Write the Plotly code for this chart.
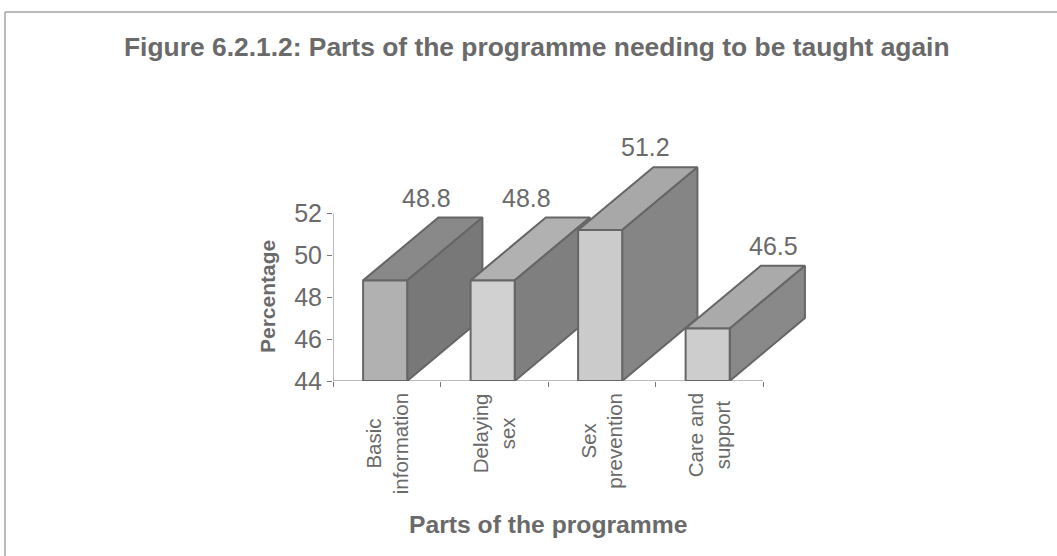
import plotly.graph_objects as go

categories = ["Basic<br>information", "Delaying<br>sex", "Sex<br>prevention", "Care and<br>support"]
percentages = [48.8, 48.8, 51.2, 46.5]
y_ticks = [44, 46, 48, 50, 52]
x_slots = [0, 1, 2, 3, 4]

WIDTH, HEIGHT = 1057, 556
FLOOR = 44
BAR_LEFT = 0.28       # front face offset inside each category slot
BAR_WIDTH = 0.41
DEPTH_X = 0.70        # oblique depth, in category units
DEPTH_Y = 3.0         # oblique depth, in percentage units
INK = "#6a6a6a"
RULE = "#777777"
FONT = "Liberation Sans"

front_shades = ["#bcbcbc", "#e0e0e0", "#dadada", "#dcdcdc"]
top_shades = ["#8e8e8e", "#bcbcbc", "#b2b2b2", "#b4b4b4"]
side_shades = ["#7c7c7c", "#848484", "#8a8a8a", "#8e8e8e"]
label_shift_x = [41, 34, 45, 66]


def px_x(px):
    return px / WIDTH


def px_y(px):
    return 1 - px / HEIGHT


def face(xs, ys, shade):
    return go.Scatter(
        x=xs + xs[:1], y=ys + ys[:1], mode="lines", fill="toself",
        line=dict(color="#666666", width=2),
        fillcolor=shade,
        fillpattern=dict(shape=".", size=2, solidity=0.3, fgcolor="#555555", bgcolor=shade),
        hoverinfo="skip", showlegend=False,
    )


fig = go.Figure()

# Axis lines stop at the last tick although the scales run on to make room for the box depth.
fig.add_trace(go.Scatter(x=[x_slots[0], x_slots[0], x_slots[-1]], y=[y_ticks[-1], y_ticks[0], y_ticks[0]],
                         mode="lines", line=dict(color=RULE, width=1), cliponaxis=False,
                         hoverinfo="skip", showlegend=False))

# Oblique boxes are painted left to right so that each front covers its neighbour's side.
for i, value in enumerate(percentages):
    x0 = i + BAR_LEFT
    x1 = x0 + BAR_WIDTH
    fig.add_trace(face([x0, x1, x1 + DEPTH_X, x0 + DEPTH_X],
                       [value, value, value + DEPTH_Y, value + DEPTH_Y], top_shades[i]))
    fig.add_trace(face([x1, x1 + DEPTH_X, x1 + DEPTH_X, x1],
                       [FLOOR, FLOOR + DEPTH_Y, value + DEPTH_Y, value], side_shades[i]))
    fig.add_trace(face([x0, x1, x1, x0],
                       [FLOOR, FLOOR, value, value], front_shades[i]))

annotations = [
    dict(x=i + BAR_LEFT + BAR_WIDTH / 2, y=v + DEPTH_Y, xref="x", yref="y",
         text=str(v), showarrow=False, xshift=label_shift_x[i], yshift=20,
         font=dict(family=FONT, size=25, color=INK))
    for i, v in enumerate(percentages)
]
annotations += [
    dict(x=i + 0.5, y=px_y(391), xref="x", yref="paper", yanchor="top",
         text=name, showarrow=False, textangle=-90, align="center",
         font=dict(family=FONT, size=20.5, color=INK))
    for i, name in enumerate(categories)
]
annotations += [
    dict(x=px_x(537), y=px_y(47), xref="paper", yref="paper", xanchor="center", yanchor="middle",
         showarrow=False,
         text="<b>Figure 6.2.1.2: Parts of the programme needing to be taught again</b>",
         font=dict(family=FONT, size=26.4, color=INK)),
    dict(x=px_x(548), y=px_y(524), xref="paper", yref="paper", xanchor="center", yanchor="middle",
         showarrow=False,
         text="<b>Parts of the programme</b>",
         font=dict(family=FONT, size=24.7, color=INK)),
    dict(x=px_x(267), y=px_y(297), xref="paper", yref="paper", xanchor="center", yanchor="middle",
         showarrow=False, textangle=-90,
         text="<b>Percentage</b>",
         font=dict(family=FONT, size=21, color=INK)),
]

fig.update_layout(
    width=WIDTH, height=HEIGHT,
    margin=dict(l=0, r=0, t=0, b=0, autoexpand=False),
    paper_bgcolor="white", plot_bgcolor="white",
    showlegend=False,
    annotations=annotations,
    # Frame around the figure: only its top and left edges are present.
    shapes=[
        dict(type="line", xref="paper", yref="paper", x0=px_x(5), x1=1, y0=px_y(12), y1=px_y(12),
             line=dict(color=RULE, width=1), layer="below"),
        dict(type="line", xref="paper", yref="paper", x0=px_x(5), x1=px_x(5), y0=0, y1=px_y(12),
             line=dict(color=RULE, width=1), layer="below"),
    ],
    xaxis=dict(
        domain=[px_x(333), px_x(333 + 4.5 * 107.5)], range=[0, 4.5],
        showticklabels=False, ticks="", tickmode="array", tickvals=[],
        showgrid=False, zeroline=False, showline=False, automargin=False,
        minor=dict(tickmode="array", tickvals=x_slots, ticks="outside",
                   ticklen=5, tickcolor=RULE, showgrid=False),
    ),
    yaxis=dict(
        domain=[px_y(381), px_y(381 - 12 * 20.96)], range=[44, 56],
        tickmode="array", tickvals=y_ticks, ticks="outside", ticklen=5,
        tickcolor=RULE, showgrid=False, zeroline=False, showline=False, automargin=False,
        tickfont=dict(family=FONT, size=25, color=INK),
    ),
)

fig.write_html("out.html")
